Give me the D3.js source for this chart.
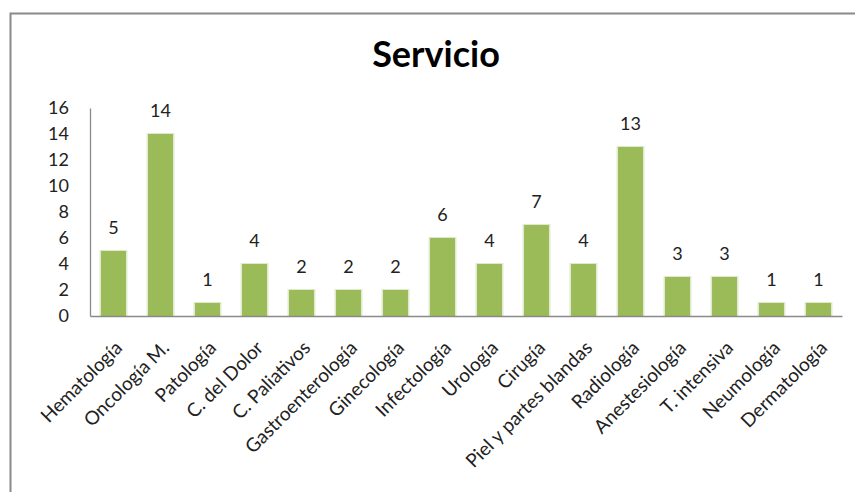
<!DOCTYPE html>
<html>
<head>
<meta charset="utf-8">
<script src="https://cdn.jsdelivr.net/npm/d3@7"></script>
<style>
  html, body { margin: 0; padding: 0; background: #fff; }
  svg { display: block; }
</style>
</head>
<body>
<svg id="chart" width="855" height="492"></svg>
<script>
// Servicio: number of cases per hospital department
const categories = ["Hematología", "Oncología M.", "Patología", "C. del Dolor", "C. Paliativos",
  "Gastroenterología", "Ginecología", "Infectología", "Urología", "Cirugía",
  "Piel y partes blandas", "Radiología", "Anestesiología", "T. intensiva", "Neumología", "Dermatología"];
const values = [5, 14, 1, 4, 2, 2, 2, 6, 4, 7, 4, 13, 3, 3, 1, 1];
const yTicks = [0, 2, 4, 6, 8, 10, 12, 14, 16];
const title = "Servicio";

const font = "Lato, 'Open Sans', sans-serif";
const svg = d3.select("#chart");

// chart frame
svg.append("path")
  .attr("d", "M10.5,492 V13.5 H855")
  .attr("fill", "none")
  .attr("stroke", "#8a8a8a")
  .attr("stroke-width", 2);

const margin = { left: 90, right: 13, top: 108, bottom: 176 };
const width = 855 - margin.left - margin.right;
const height = 492 - margin.top - margin.bottom;

const g = svg.append("g").attr("transform", `translate(${margin.left},${margin.top})`);

const x = d3.scaleBand().domain(categories).range([0, width]).paddingInner(0.47).paddingOuter(0.235);
const y = d3.scaleLinear().domain([0, 16]).range([height, 0]);

// title
svg.append("text")
  .attr("x", 436).attr("y", 67)
  .attr("text-anchor", "middle")
  .attr("font-family", font)
  .attr("font-weight", "bold")
  .attr("font-size", 36)
  .attr("fill", "#000")
  .text(title);

// bars with a soft light halo
const data = categories.map((c, i) => ({ c, v: values[i] }));
g.selectAll("rect.halo").data(data).join("rect")
  .attr("class", "halo")
  .attr("x", d => x(d.c) - 1.5)
  .attr("y", d => y(d.v) - 1)
  .attr("width", x.bandwidth() + 3)
  .attr("height", d => height - y(d.v) + 1)
  .attr("fill", "#dfe9cb");
g.selectAll("rect.bar").data(data).join("rect")
  .attr("class", "bar")
  .attr("x", d => x(d.c))
  .attr("y", d => y(d.v))
  .attr("width", x.bandwidth())
  .attr("height", d => height - y(d.v))
  .attr("fill", "#9bbb59");

// value labels
g.selectAll("text.val").data(data).join("text")
  .attr("class", "val")
  .attr("x", d => x(d.c) + x.bandwidth() / 2)
  .attr("y", d => y(d.v) - 17)
  .attr("text-anchor", "middle")
  .attr("font-family", font)
  .attr("font-size", 18)
  .attr("fill", "#222")
  .text(d => d.v);

// y axis
const yAxis = g.append("g")
  .call(d3.axisLeft(y).tickValues(yTicks).tickSize(0).tickPadding(21));
yAxis.select(".domain").attr("stroke", "#8a8a8a").attr("stroke-width", 1.3);
yAxis.selectAll("text")
  .attr("font-family", font)
  .attr("font-size", 18)
  .attr("fill", "#222");

// x axis
const xAxis = g.append("g")
  .attr("transform", `translate(0,${height})`)
  .call(d3.axisBottom(x).tickSize(0).tickPadding(0));
xAxis.select(".domain").attr("stroke", "#8a8a8a").attr("stroke-width", 1.3);
xAxis.selectAll("text")
  .attr("font-family", font)
  .attr("font-size", 19)
  .attr("fill", "#222")
  .attr("text-anchor", "end")
  .attr("dy", null)
  .attr("transform", "translate(10,33) rotate(-45)");
</script>
</body>
</html>
